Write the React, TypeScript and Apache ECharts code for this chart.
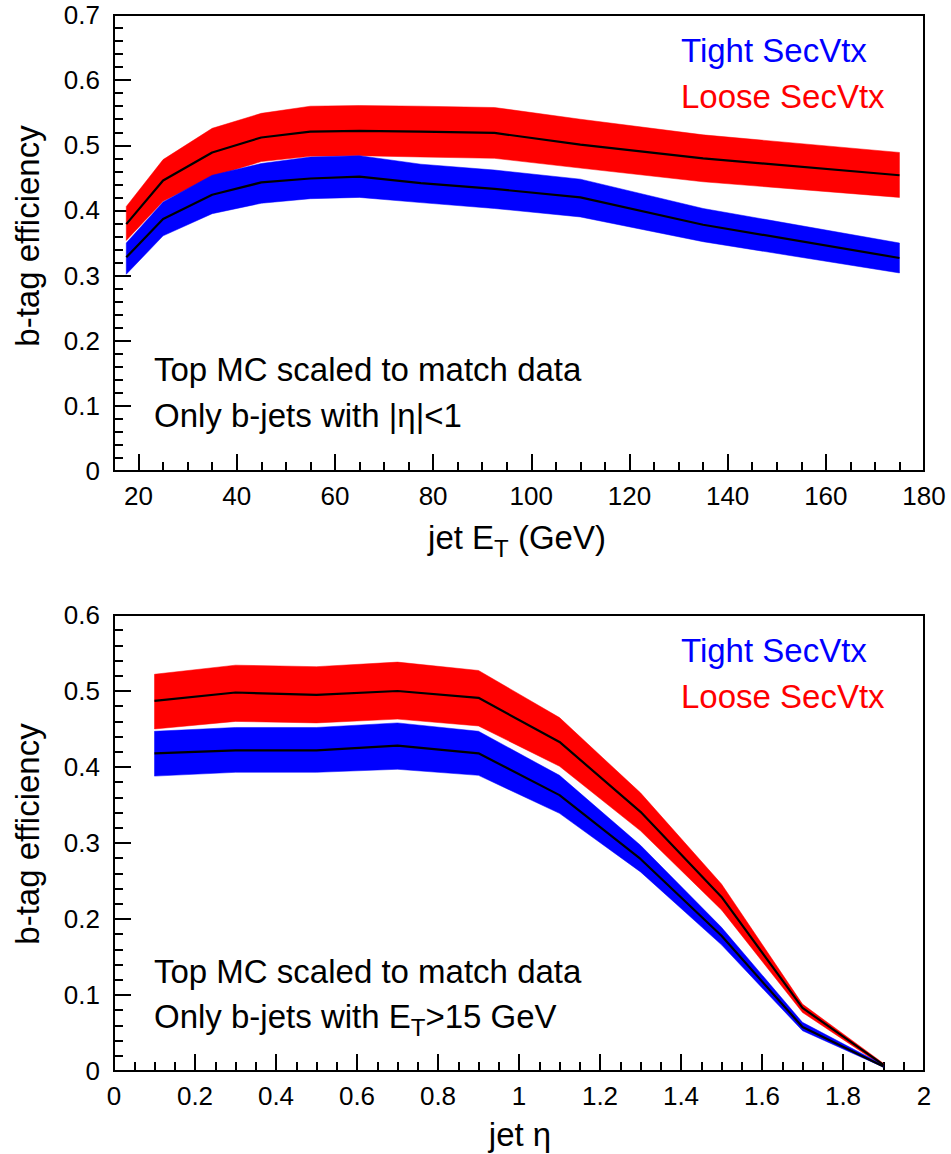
import React, { useEffect, useRef } from 'react';
import * as echarts from 'echarts';

// ---- Top panel: efficiency vs jet ET ----
const etX = [17.5, 25, 35, 45, 55, 65, 77.5, 92.5, 110, 135, 175];
const etTightMid = [0.328, 0.387, 0.424, 0.443, 0.449, 0.452, 0.442, 0.433, 0.420, 0.378, 0.327];
const etTightHi = [0.350, 0.413, 0.454, 0.472, 0.482, 0.484, 0.471, 0.462, 0.448, 0.403, 0.350];
const etTightLo = [0.302, 0.361, 0.395, 0.411, 0.418, 0.420, 0.412, 0.403, 0.390, 0.352, 0.304];
const etLooseMid = [0.379, 0.446, 0.489, 0.512, 0.521, 0.522, 0.521, 0.519, 0.501, 0.480, 0.454];
const etLooseHi = [0.406, 0.478, 0.526, 0.549, 0.560, 0.561, 0.560, 0.558, 0.540, 0.516, 0.489];
const etLooseLo = [0.354, 0.414, 0.452, 0.475, 0.483, 0.484, 0.482, 0.480, 0.465, 0.444, 0.420];
const etMajorTicks = [20, 40, 60, 80, 100, 120, 140, 160, 180];
const etMinorTicks = [25, 30, 35, 45, 50, 55, 65, 70, 75, 85, 90, 95, 105, 110, 115, 125, 130, 135, 145, 150, 155, 165, 170, 175];

// ---- Bottom panel: efficiency vs jet eta ----
const etaX = [0.1, 0.3, 0.5, 0.7, 0.9, 1.1, 1.3, 1.5, 1.7, 1.9];
const etaTightMid = [0.418, 0.422, 0.422, 0.428, 0.418, 0.363, 0.279, 0.178, 0.058, 0.006];
const etaTightHi = [0.447, 0.452, 0.452, 0.458, 0.447, 0.389, 0.297, 0.189, 0.064, 0.008];
const etaTightLo = [0.388, 0.393, 0.393, 0.397, 0.389, 0.339, 0.262, 0.166, 0.053, 0.005];
const etaLooseMid = [0.487, 0.498, 0.495, 0.500, 0.491, 0.433, 0.341, 0.229, 0.083, 0.008];
const etaLooseHi = [0.522, 0.534, 0.532, 0.538, 0.527, 0.465, 0.366, 0.246, 0.088, 0.010];
const etaLooseLo = [0.450, 0.460, 0.458, 0.463, 0.454, 0.401, 0.316, 0.212, 0.077, 0.006];

const FONT = "'Liberation Sans', Arial, Helvetica, sans-serif";
const RED = '#ff0000';
const BLUE = '#0000ff';
const TS = 33; // main text size

function measure(text: string, size: number): number {
  const c = document.createElement('canvas').getContext('2d');
  if (!c) return text.length * size * 0.55;
  c.font = `${size}px ${FONT}`;
  return c.measureText(text).width;
}

function txt(x: number, y: number, text: string, size: number, color = '#000', align = 'left', rotation = 0) {
  return {
    type: 'text',
    x,
    y,
    rotation,
    silent: true,
    style: {
      text,
      fill: color,
      fontSize: size,
      fontFamily: FONT,
      textAlign: align,
      textVerticalAlign: 'middle',
    },
  };
}

// text with subscripts; parts: [text, isSub]
function subText(x: number, y: number, parts: [string, boolean][], size: number, subSize: number, anchor: 'left' | 'center') {
  const widths = parts.map(([t, s]) => measure(t, s ? subSize : size));
  const total = widths.reduce((a, b) => a + b, 0);
  let cx = anchor === 'center' ? x - total / 2 : x;
  const out: any[] = [];
  parts.forEach(([t, s], i) => {
    out.push(txt(cx, s ? y + 11 : y, t, s ? subSize : size, '#000', 'left'));
    cx += widths[i];
  });
  return out;
}

function band(xs: number[], lo: number[], hi: number[], color: string, xi: number, yi: number) {
  return {
    type: 'custom',
    xAxisIndex: xi,
    yAxisIndex: yi,
    silent: true,
    data: xs.map((x, i) => [x, lo[i], hi[i]]),
    encode: { x: 0, y: [1, 2] },
    renderItem: (params: any, api: any) => {
      if (params.dataIndex !== 0) return null;
      const pts: number[][] = [];
      for (let i = 0; i < xs.length; i++) pts.push(api.coord([xs[i], hi[i]]));
      for (let i = xs.length - 1; i >= 0; i--) pts.push(api.coord([xs[i], lo[i]]));
      return { type: 'polygon', shape: { points: pts }, style: { fill: color, stroke: color, lineWidth: 0.5 } };
    },
  };
}

function mid(xs: number[], ys: number[], xi: number, yi: number) {
  return {
    type: 'line',
    xAxisIndex: xi,
    yAxisIndex: yi,
    silent: true,
    symbol: 'none',
    data: xs.map((x, i) => [x, ys[i]]),
    lineStyle: { color: '#000', width: 2.2 },
  };
}

const axisLabelStyle = { color: '#000', fontSize: 26, fontFamily: FONT };

export default function App() {
  const ref = useRef<HTMLDivElement>(null);
  useEffect(() => {
    if (!ref.current) return;
    const chart = echarts.init(ref.current, undefined, { renderer: 'svg' });
    const yAxisCommon = (max: number) => ({
      type: 'value',
      min: 0,
      max,
      interval: 0.1,
      axisLine: { show: true, lineStyle: { color: '#000', width: 2 } },
      axisTick: { show: true, inside: true, length: 17, lineStyle: { color: '#000', width: 2 } },
      minorTick: { show: true, splitNumber: 5, length: 9, lineStyle: { color: '#000', width: 2 } },
      splitLine: { show: false },
      minorSplitLine: { show: false },
      axisLabel: { ...axisLabelStyle, margin: 14 },
    });
    const option: any = {
      animation: false,
      backgroundColor: '#fff',
      grid: [
        { left: 114, top: 15, width: 810, height: 456, show: true, borderColor: '#000', borderWidth: 2, backgroundColor: 'transparent' },
        { left: 114, top: 615, width: 810, height: 456, show: true, borderColor: '#000', borderWidth: 2, backgroundColor: 'transparent' },
      ],
      xAxis: [
        {
          type: 'value',
          gridIndex: 0,
          min: 15,
          max: 180,
          axisLine: { show: true, lineStyle: { color: '#000', width: 2 } },
          axisTick: { show: true, inside: true, length: 17, customValues: etMajorTicks, lineStyle: { color: '#000', width: 2 } },
          axisLabel: { ...axisLabelStyle, margin: 12, customValues: etMajorTicks },
          splitLine: { show: false },
        },
        {
          type: 'value',
          gridIndex: 0,
          min: 15,
          max: 180,
          position: 'bottom',
          axisLine: { show: false },
          axisTick: { show: true, inside: true, length: 9, customValues: etMinorTicks, lineStyle: { color: '#000', width: 2 } },
          axisLabel: { show: false },
          splitLine: { show: false },
        },
        {
          type: 'value',
          gridIndex: 1,
          min: 0,
          max: 2,
          interval: 0.2,
          axisLine: { show: true, lineStyle: { color: '#000', width: 2 } },
          axisTick: { show: true, inside: true, length: 17, lineStyle: { color: '#000', width: 2 } },
          minorTick: { show: true, splitNumber: 4, length: 9, lineStyle: { color: '#000', width: 2 } },
          axisLabel: { ...axisLabelStyle, margin: 12 },
          splitLine: { show: false },
          minorSplitLine: { show: false },
        },
      ],
      yAxis: [
        { ...yAxisCommon(0.7), gridIndex: 0 },
        { ...yAxisCommon(0.6), gridIndex: 1 },
      ],
      series: [
        band(etX, etLooseLo, etLooseHi, RED, 0, 0),
        band(etX, etTightLo, etTightHi, BLUE, 0, 0),
        mid(etX, etLooseMid, 0, 0),
        mid(etX, etTightMid, 0, 0),
        band(etaX, etaLooseLo, etaLooseHi, RED, 2, 1),
        band(etaX, etaTightLo, etaTightHi, BLUE, 2, 1),
        mid(etaX, etaLooseMid, 2, 1),
        mid(etaX, etaTightMid, 2, 1),
      ],
      graphic: [
        // top panel texts
        txt(681, 50, 'Tight SecVtx', TS, BLUE),
        txt(681, 96, 'Loose SecVtx', TS, RED),
        txt(154, 369, 'Top MC scaled to match data', TS),
        txt(154, 415, 'Only b-jets with |η|<1', TS),
        txt(27, 236, 'b-tag efficiency', TS, '#000', 'center', Math.PI / 2),
        ...subText(517, 537, [['jet E', false], ['T', true], [' (GeV)', false]], TS, 24, 'center'),
        // bottom panel texts
        txt(681, 650, 'Tight SecVtx', TS, BLUE),
        txt(681, 696, 'Loose SecVtx', TS, RED),
        txt(154, 971, 'Top MC scaled to match data', TS),
        ...subText(154, 1016, [['Only b-jets with E', false], ['T', true], ['>15 GeV', false]], TS, 24, 'left'),
        txt(27, 834, 'b-tag efficiency', TS, '#000', 'center', Math.PI / 2),
        txt(520, 1134, 'jet η', TS, '#000', 'center'),
      ],
    };
    chart.setOption(option);
    return () => chart.dispose();
  }, []);
  return <div ref={ref} style={{ position: 'absolute', left: 0, top: 0, width: 951, height: 1154 }} />;
}
